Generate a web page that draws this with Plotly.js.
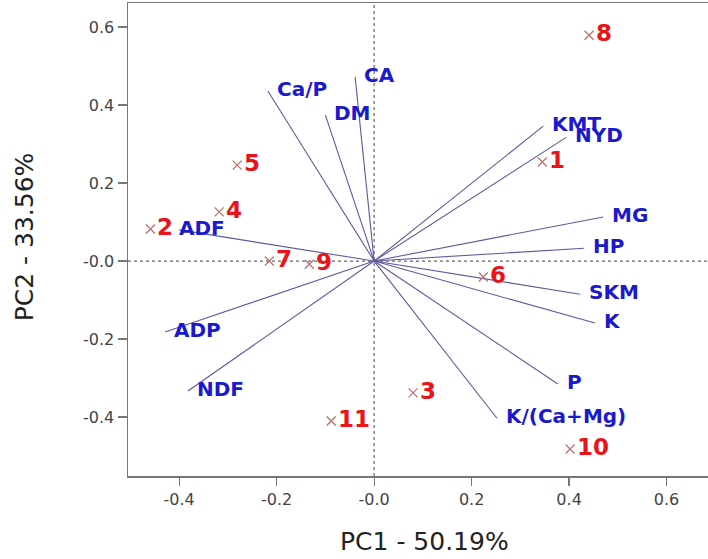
<!DOCTYPE html>
<html>
<head>
<meta charset="utf-8">
<script src="https://cdn.plot.ly/plotly-3.0.1.min.js"></script>
<style>
  html, body { margin: 0; padding: 0; background: #fff; }
  #chart { width: 708px; height: 559px; }
</style>
</head>
<body>
<div id="chart"></div>
<script>
// ---- Data ----
// Observation scores
const obsLabels = ["1", "2", "3", "4", "5", "6", "7", "8", "9", "10", "11"];
const obsPC1 = [0.345, -0.459, 0.080, -0.318, -0.281, 0.224, -0.215, 0.441, -0.133, 0.402, -0.088];
const obsPC2 = [0.254, 0.082, -0.338, 0.126, 0.246, -0.041, 0.000, 0.579, -0.008, -0.482, -0.410];

// Variable loadings
const varLabels = ["CA", "DM", "Ca/P", "KMT", "NYD", "MG", "HP", "SKM", "K", "P", "K/(Ca+Mg)", "ADF", "ADP", "NDF"];
const varPC1 = [-0.039, -0.100, -0.218, 0.347, 0.394, 0.470, 0.431, 0.423, 0.453, 0.377, 0.252, -0.400, -0.429, -0.382];
const varPC2 = [0.472, 0.374, 0.436, 0.346, 0.317, 0.113, 0.033, -0.085, -0.159, -0.315, -0.403, 0.080, -0.182, -0.333];

// Axis ticks
const xTickVals = [-0.4, -0.2, 0.0, 0.2, 0.4, 0.6];
const xTickText = ["-0.4", "-0.2", "-0.0", "0.2", "0.4", "0.6"];
const yTickVals = [-0.4, -0.2, 0.0, 0.2, 0.4, 0.6];
const yTickText = ["-0.4", "-0.2", "-0.0", "0.2", "0.4", "0.6"];

const xTitle = "PC1 - 50.19%";
const yTitle = "PC2 - 33.56%";

// ---- Styles ----
const FONT = "DejaVu Sans, Arial, sans-serif";
const lineColor = "#5a5a9e";
const varColor = "#1a1acc";
const obsColor = "#e8141a";
const markColor = "#b87272";
const labelShiftOverride = { "ADF": -2 };

// loading segments from origin
const segX = [], segY = [];
varPC1.forEach((v, i) => { segX.push(0, v, null); segY.push(0, varPC2[i], null); });

const traces = [
  {
    type: "scatter", mode: "lines", x: segX, y: segY,
    line: { color: lineColor, width: 1.1 },
    hoverinfo: "skip", showlegend: false
  },
  {
    type: "scatter", mode: "markers", x: obsPC1, y: obsPC2,
    marker: { symbol: "x-thin", size: 9, color: markColor, line: { color: markColor, width: 1.3 } },
    hoverinfo: "skip", showlegend: false
  }
];

const annotations = [];
varLabels.forEach((t, i) => {
  annotations.push({
    x: varPC1[i], y: varPC2[i], xref: "x", yref: "y",
    text: "<b>" + t + "</b>", showarrow: false,
    xanchor: "left", yanchor: "middle",
    xshift: (t in labelShiftOverride) ? labelShiftOverride[t] : 7, yshift: 2,
    font: { family: FONT, size: 20, color: varColor }
  });
});
obsLabels.forEach((t, i) => {
  annotations.push({
    x: obsPC1[i], y: obsPC2[i], xref: "x", yref: "y",
    text: "<b>" + t + "</b>", showarrow: false,
    xanchor: "left", yanchor: "middle",
    xshift: 5, yshift: 2,
    font: { family: FONT, size: 23, color: obsColor }
  });
});
annotations.push({
  x: 0.512, y: -0.1395, xref: "paper", yref: "paper",
  text: xTitle, showarrow: false, xanchor: "center", yanchor: "middle",
  font: { family: FONT, size: 25, color: "#222" }
});
annotations.push({
  x: -0.179, y: 0.505, xref: "paper", yref: "paper",
  text: yTitle, showarrow: false, xanchor: "center", yanchor: "middle", textangle: -90,
  font: { family: FONT, size: 25, color: "#222" }
});

const layout = {
  width: 708, height: 559,
  margin: { l: 128, r: 0, t: 3, b: 83 },
  paper_bgcolor: "#fff", plot_bgcolor: "#fff",
  showlegend: false,
  xaxis: {
    range: [-0.505, 0.685], showgrid: false, zeroline: false,
    showline: true, mirror: true, linecolor: "#777", linewidth: 1.5,
    ticks: "outside", ticklen: 8, tickcolor: "#777", tickwidth: 1.2,
    tickvals: xTickVals, ticktext: xTickText,
    tickfont: { family: FONT, size: 16, color: "#444" }
  },
  yaxis: {
    range: [-0.551, 0.6615], showgrid: false, zeroline: false,
    showline: true, mirror: false, linecolor: "#777", linewidth: 1.5,
    ticks: "outside", ticklen: 9, tickcolor: "#777", tickwidth: 1.2,
    tickvals: yTickVals, ticktext: yTickText,
    tickfont: { family: FONT, size: 16, color: "#444" }
  },
  shapes: [
    { type: "line", xref: "x", yref: "paper", x0: 0, x1: 0, y0: 0, y1: 1,
      line: { color: "#666", width: 1.2, dash: "dot" } },
    { type: "line", xref: "paper", yref: "y", x0: 0, x1: 1, y0: 0, y1: 0,
      line: { color: "#666", width: 1.2, dash: "dot" } }
  ],
  annotations: annotations
};

Plotly.newPlot("chart", traces, layout, { displayModeBar: false, staticPlot: true });
</script>
</body>
</html>
